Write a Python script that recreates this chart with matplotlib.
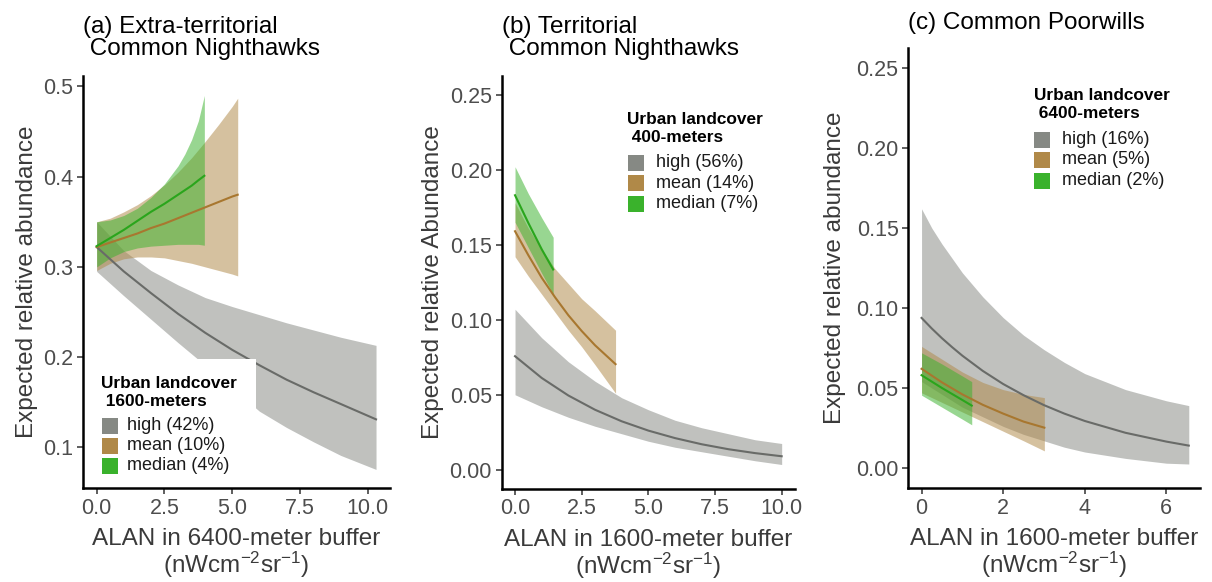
import numpy as np
import matplotlib
matplotlib.use("Agg")
import matplotlib.pyplot as plt
from matplotlib.patches import Rectangle

plt.rcParams['font.family'] = ['Liberation Sans', 'DejaVu Sans']
plt.rcParams['mathtext.fontset'] = 'custom'
plt.rcParams['mathtext.rm'] = 'Liberation Sans'
plt.rcParams['mathtext.default'] = 'regular'

# ---- data ----
# (a) extra-territorial nighthawks, ALAN 6400 m, urban 1600 m
a_high_x = [0, 1, 2, 3, 4, 5, 6, 7, 8, 9, 10.3]
a_high_fit = [0.322, 0.295, 0.271, 0.248, 0.227, 0.208, 0.191, 0.175, 0.161, 0.148, 0.131]
a_high_lo = [0.295, 0.268, 0.242, 0.216, 0.191, 0.166, 0.140, 0.122, 0.106, 0.091, 0.0755]
a_high_hi = [0.350, 0.318, 0.296, 0.280, 0.266, 0.256, 0.247, 0.238, 0.230, 0.222, 0.213]

a_mean_x = [0, 0.5, 1, 1.5, 2, 2.5, 3, 3.5, 4, 4.5, 5, 5.2]
a_mean_fit = [0.322, 0.327, 0.332, 0.337, 0.343, 0.348, 0.354, 0.360, 0.366, 0.372, 0.378, 0.380]
a_mean_lo = [0.296, 0.304, 0.309, 0.311, 0.311, 0.310, 0.307, 0.304, 0.300, 0.296, 0.292, 0.290]
a_mean_hi = [0.350, 0.354, 0.361, 0.369, 0.379, 0.391, 0.405, 0.421, 0.439, 0.458, 0.478, 0.487]

a_med_x = [0, 0.5, 1, 1.5, 2, 2.5, 3, 3.25, 3.5, 3.75, 3.97]
a_med_fit = [0.323, 0.332, 0.341, 0.351, 0.361, 0.370, 0.380, 0.385, 0.390, 0.396, 0.401]
a_med_lo = [0.300, 0.310, 0.317, 0.321, 0.323, 0.324, 0.325, 0.325, 0.325, 0.325, 0.324]
a_med_hi = [0.350, 0.352, 0.357, 0.365, 0.377, 0.392, 0.412, 0.425, 0.441, 0.462, 0.490]

# (b) territorial nighthawks, ALAN 1600 m, urban 400 m
b_high_x = [0, 1, 2, 3, 4, 5, 6, 7, 8, 9, 10]
b_high_fit = [0.0757, 0.0612, 0.0495, 0.0400, 0.0323, 0.0261, 0.0211, 0.0170, 0.0137, 0.0111, 0.0090]
b_high_lo = [0.050, 0.042, 0.035, 0.029, 0.024, 0.019, 0.015, 0.012, 0.009, 0.006, 0.0035]
b_high_hi = [0.107, 0.088, 0.072, 0.059, 0.048, 0.040, 0.033, 0.028, 0.024, 0.020, 0.0175]

b_mean_x = [0, 0.5, 1, 1.5, 2, 2.5, 3, 3.77]
b_mean_fit = [0.159, 0.143, 0.128, 0.115, 0.103, 0.0925, 0.083, 0.0704]
b_mean_lo = [0.142, 0.129, 0.117, 0.105, 0.093, 0.082, 0.070, 0.051]
b_mean_hi = [0.178, 0.161, 0.147, 0.134, 0.124, 0.114, 0.106, 0.093]

b_med_x = [0, 0.5, 1, 1.43]
b_med_fit = [0.183, 0.1645, 0.147, 0.1335]
b_med_lo = [0.165, 0.148, 0.131, 0.117]
b_med_hi = [0.202, 0.184, 0.168, 0.155]

# (c) poorwills, ALAN 1600 m, urban 6400 m
c_high_x = [0, 0.25, 0.5, 0.75, 1, 1.5, 2, 2.5, 3, 3.5, 4, 5, 6, 6.55]
c_high_fit = [0.0938, 0.0872, 0.0811, 0.0755, 0.0702, 0.0607, 0.0525, 0.0455, 0.0393,
              0.0340, 0.0294, 0.0220, 0.0165, 0.0140]
c_high_lo = [0.054, 0.050, 0.046, 0.042, 0.038, 0.032, 0.026, 0.021, 0.017, 0.013,
             0.010, 0.006, 0.003, 0.0025]
c_high_hi = [0.162, 0.150, 0.140, 0.131, 0.122, 0.107, 0.094, 0.083, 0.074, 0.066,
             0.059, 0.049, 0.042, 0.039]

c_mean_x = [0, 0.5, 1, 1.5, 2, 2.5, 3.01]
c_mean_fit = [0.062, 0.0535, 0.046, 0.0395, 0.034, 0.029, 0.0252]
c_mean_lo = [0.047, 0.041, 0.035, 0.029, 0.023, 0.017, 0.0107]
c_mean_hi = [0.076, 0.068, 0.060, 0.0535, 0.049, 0.046, 0.044]

c_med_x = [0, 0.5, 1, 1.23]
c_med_fit = [0.058, 0.050, 0.0425, 0.039]
c_med_lo = [0.0455, 0.038, 0.0305, 0.027]
c_med_hi = [0.072, 0.065, 0.0575, 0.054]

groups = ["high", "mean", "median"]
a_labels = ["high (42%)", "mean (10%)", "median (4%)"]
b_labels = ["high (56%)", "mean (14%)", "median (7%)"]
c_labels = ["high (16%)", "mean (5%)", "median (2%)"]

fill_cols = {"high": "#868984", "mean": "#b08948", "median": "#3ab22c"}
line_cols = {"high": "#696b68", "mean": "#a8772f", "median": "#2aa51c"}

W, H = 1212, 582
fig = plt.figure(figsize=(W / 100, H / 100), dpi=100)


def px_axes(x0, x1, ytop, ybot):
    return fig.add_axes([x0 / W, 1 - ybot / H, (x1 - x0) / W, (ybot - ytop) / H])


def fx(x):
    return x / W


def fy(y):
    return 1 - y / H


def draw_panel(ax, series):
    for g, (x, fit, lo, hi) in zip(groups, series):
        ax.fill_between(x, lo, hi, color=fill_cols[g], alpha=0.52, lw=0)
    for g, (x, fit, lo, hi) in zip(groups, series):
        ax.plot(x, fit, color=line_cols[g], lw=1.5)
    for s in ["top", "right"]:
        ax.spines[s].set_visible(False)
    for s in ["left", "bottom"]:
        ax.spines[s].set_linewidth(1.8)
    ax.tick_params(direction="out", length=4.5, width=1.1, color="#333333",
                   labelsize=15.5, labelcolor="#4d4d4d", pad=2.5)


def draw_key(title_lines, labels, tx, ty, kx, rows, lab_x):
    fig.text(fx(tx), fy(ty[0]), title_lines[0], fontsize=12.4, fontweight="bold",
             va="center", ha="left")
    fig.text(fx(tx), fy(ty[1]), title_lines[1], fontsize=12.4, fontweight="bold",
             va="center", ha="left")
    for g, lab, r in zip(groups, labels, rows):
        fig.add_artist(Rectangle((fx(kx), fy(r + 8)), 16 / W, 16 / H,
                                 transform=fig.transFigure,
                                 facecolor=fill_cols[g], edgecolor="none", zorder=4))
        fig.text(fx(lab_x), fy(r), lab, fontsize=13, va="center", ha="left",
                 color="#1a1a1a", zorder=4)


xlab_unit = "(nWcm$^{-2}$sr$^{-1}$)"

# panel a
ax_a = px_axes(82.7, 390, 76, 488)
draw_panel(ax_a, [(a_high_x, a_high_fit, a_high_lo, a_high_hi),
                  (a_mean_x, a_mean_fit, a_mean_lo, a_mean_hi),
                  (a_med_x, a_med_fit, a_med_lo, a_med_hi)])
ax_a.set_xlim(-0.515, 10.815)
ax_a.set_ylim(0.0549, 0.5116)
ax_a.set_xticks([0, 2.5, 5, 7.5, 10])
ax_a.set_xticklabels(["0.0", "2.5", "5.0", "7.5", "10.0"])
ax_a.set_yticks([0.1, 0.2, 0.3, 0.4, 0.5])
ax_a.set_yticklabels(["0.1", "0.2", "0.3", "0.4", "0.5"])

# panel b
ax_b = px_axes(501.7, 795, 76, 488.5)
draw_panel(ax_b, [(b_high_x, b_high_fit, b_high_lo, b_high_hi),
                  (b_mean_x, b_mean_fit, b_mean_lo, b_mean_hi),
                  (b_med_x, b_med_fit, b_med_lo, b_med_hi)])
ax_b.set_xlim(-0.5, 10.5)
ax_b.set_ylim(-0.0125, 0.2625)
ax_b.set_xticks([0, 2.5, 5, 7.5, 10])
ax_b.set_xticklabels(["0.0", "2.5", "5.0", "7.5", "10.0"])
ax_b.set_yticks([0, 0.05, 0.10, 0.15, 0.20, 0.25])
ax_b.set_yticklabels(["0.00", "0.05", "0.10", "0.15", "0.20", "0.25"])

# panel c
ax_c = px_axes(908.3, 1200, 48, 488)
draw_panel(ax_c, [(c_high_x, c_high_fit, c_high_lo, c_high_hi),
                  (c_mean_x, c_mean_fit, c_mean_lo, c_mean_hi),
                  (c_med_x, c_med_fit, c_med_lo, c_med_hi)])
ax_c.set_xlim(-0.325, 6.825)
ax_c.set_ylim(-0.0125, 0.2625)
ax_c.set_xticks([0, 2, 4, 6])
ax_c.set_yticks([0, 0.05, 0.10, 0.15, 0.20, 0.25])
ax_c.set_yticklabels(["0.00", "0.05", "0.10", "0.15", "0.20", "0.25"])

# axis titles
lab_kw = dict(fontsize=17.5, color="#3a3a3a")
for ax, xl, yl, xc, yc in [
        (ax_a, "ALAN in 6400-meter buffer", "Expected relative abundance", -0.144, -0.097),
        (ax_b, "ALAN in 1600-meter buffer", "Expected relative Abundance", -0.198, -0.097),
        (ax_c, "ALAN in 1600-meter buffer", "Expected relative abundance", -0.212, -0.091)]:
    ax.set_xlabel(xl + "\n" + xlab_unit, linespacing=1.0, **lab_kw)
    ax.set_ylabel(yl, **lab_kw)
    ax.xaxis.set_label_coords(0.5, yc)
    ax.yaxis.set_label_coords(xc, 0.5)

# panel titles
tkw = dict(fontsize=17.5, ha="left", va="bottom", linespacing=0.98, color="black")
fig.text(fx(82.7), fy(60), "(a) Extra-territorial\n Common Nighthawks", **tkw)
fig.text(fx(501.7), fy(60), "(b) Territorial\n Common Nighthawks", **tkw)
fig.text(fx(908.3), fy(34.5), "(c) Common Poorwills", **tkw)

# legend of panel a sits on a white box over the ribbons
fig.add_artist(Rectangle((fx(84.5), fy(487)), (255.7 - 84.5) / W, (487 - 359) / H,
                         transform=fig.transFigure, facecolor="white",
                         edgecolor="none", zorder=3))
draw_key(["Urban landcover", " 1600-meters"], a_labels, 100.7, (384, 402),
         101.7, (426, 446, 466), 127)
draw_key(["Urban landcover", " 400-meters"], b_labels, 627.3, (120, 138),
         628, (162.5, 183, 203.5), 656)
draw_key(["Urban landcover", " 6400-meters"], c_labels, 1033.5, (96, 114),
         1034, (139.5, 160, 180.5), 1062)

fig.savefig("out.png", dpi=100)
